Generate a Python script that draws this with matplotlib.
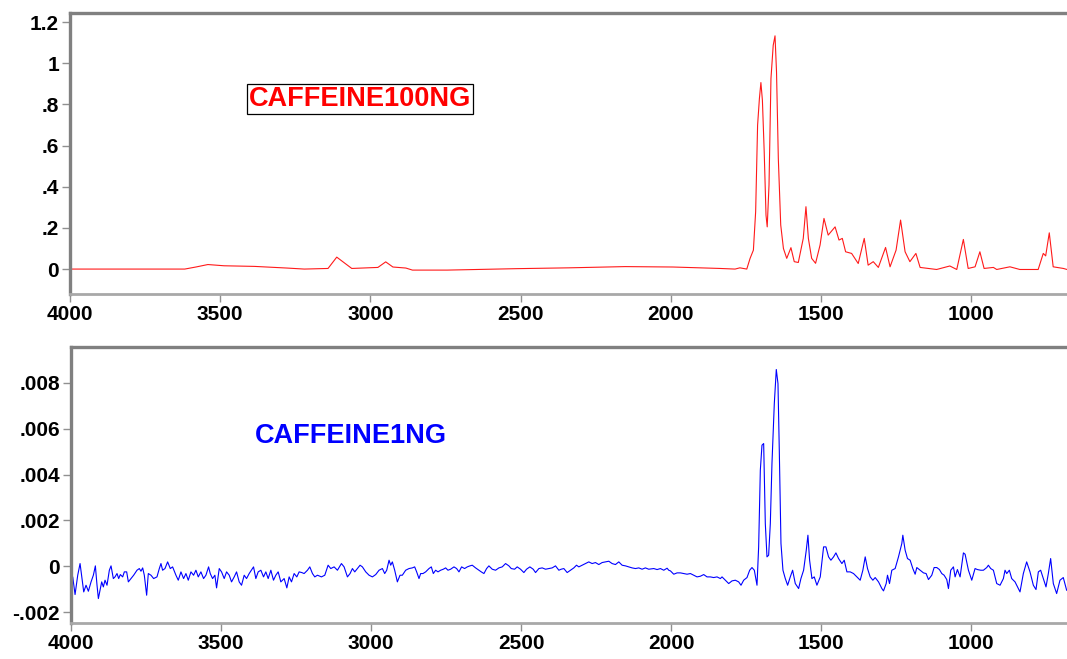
import numpy as np
import matplotlib
matplotlib.use("Agg")
import matplotlib.pyplot as plt
from matplotlib.ticker import FixedLocator, FuncFormatter

plt.rcParams['font.family'] = ['Liberation Sans', 'DejaVu Sans']

# caffeine 100 ng spectrum (wavenumber, absorbance)
wn_100 = [4000, 3618, 3581, 3541, 3487, 3386, 3278, 3220, 3141, 3112, 3062, 2975, 2949,
          2925, 2882, 2860, 2744, 2513, 2340, 2152, 1993, 1836, 1786, 1770, 1747, 1736,
          1725, 1717.5, 1711, 1705, 1700, 1695, 1689, 1683, 1679, 1673, 1666.5, 1659,
          1653, 1648, 1642, 1634, 1625, 1614, 1600, 1589, 1575.5, 1559, 1550, 1542, 1531,
          1518, 1503, 1490, 1476, 1453, 1440, 1429, 1418, 1398, 1376, 1356, 1343,
          1326, 1309, 1285, 1270, 1250, 1235, 1220, 1204, 1184, 1170, 1115, 1071, 1048,
          1026, 1010, 987, 971, 957, 926, 915, 871, 838, 777, 760, 752, 740, 727, 693, 681]
abs_100 = [0, 0, 0.010, 0.022, 0.016, 0.013, 0.005, 0.0, 0.003, 0.058, 0.003, 0.008, 0.035,
           0.010, 0.005, -0.005, -0.005, 0.002, 0.006, 0.012, 0.010, 0.003, 0.0, 0.006,
           0.0, 0.052, 0.092, 0.278, 0.699, 0.828, 0.906, 0.820, 0.570, 0.262, 0.205,
           0.408, 0.926, 1.087, 1.133, 0.958, 0.537, 0.214, 0.100, 0.052, 0.104, 0.036,
           0.032, 0.149, 0.303, 0.149, 0.052, 0.028, 0.117, 0.246, 0.165, 0.205, 0.141,
           0.149, 0.084, 0.076, 0.027, 0.149, 0.019, 0.036, 0.008, 0.105, 0.011, 0.092,
           0.238, 0.084, 0.036, 0.076, 0.008, -0.002, 0.015, -0.002, 0.144, 0.003, 0.011,
           0.084, 0.003, 0.008, -0.002, 0.011, -0.002, -0.002, 0.076, 0.064, 0.176, 0.011,
           0.003, -0.002]

# caffeine 1 ng spectrum, absorbance in units of 1e-3
wn_1 = [4000, 3994.5, 3986.7, 3977.8, 3970.0, 3963.4, 3957.8, 3950.1, 3942.3, 3933.4, 3925.7,
        3919.0, 3913.5, 3909.0, 3902.4, 3897.9, 3892.4, 3886.8, 3880.2, 3872.4, 3866.8,
        3859.1, 3853.5, 3846.9, 3841.3, 3835.8, 3828.0, 3822.5, 3814.7, 3809.1, 3800.3,
        3791.4, 3780.3, 3772.5, 3767.0, 3761.4, 3755.9, 3748.1, 3742.6, 3733.7, 3724.8,
        3713.7, 3705.9, 3700.4, 3694.9, 3687.1, 3678.2, 3669.3, 3661.6, 3650.5, 3642.7,
        3633.8, 3625.0, 3617.2, 3609.4, 3600.5, 3591.7, 3583.9, 3576.1, 3567.3, 3558.4,
        3550.6, 3541.7, 3536.2, 3528.4, 3520.7, 3515.1, 3506.2, 3498.5, 3489.6, 3481.8,
        3472.9, 3465.2, 3456.3, 3448.5, 3439.7, 3431.9, 3423.0, 3415.2, 3406.4, 3391.9,
        3384.2, 3376.4, 3367.5, 3358.6, 3350.9, 3343.1, 3334.2, 3325.4, 3317.6, 3309.8,
        3300.9, 3289.9, 3280.9, 3273.2, 3265.4, 3256.6, 3247.7, 3239.9, 3231.1, 3223.3,
        3212.2, 3204.4, 3195.5, 3187.8, 3178.9, 3165.6, 3154.5, 3143.4, 3134.5, 3123.4,
        3112.3, 3099.0, 3090.1, 3079.0, 3070.2, 3062.4, 3054.6, 3045.7, 3036.9, 3029.1,
        3018.0, 3006.9, 2995.8, 2984.7, 2973.6, 2962.5, 2954.8, 2948.1, 2940.3, 2934.8,
        2929.3, 2921.5, 2912.6, 2903.7,
        2896.0, 2884.9, 2873.8, 2862.7, 2854.9, 2848.3, 2840.5, 2834.9, 2827.2, 2818.3,
        2807.2, 2799.4, 2792.8, 2785.0, 2777.2, 2768.4, 2759.5, 2751.7, 2744.0, 2735.1,
        2724.0, 2715.1, 2707.3, 2698.5, 2688.5, 2679.6, 2670.7, 2663.0, 2651.9, 2640.8,
        2633.0, 2624.1, 2615.2, 2607.5, 2596.4, 2585.3, 2574.2, 2563.1, 2552.0, 2540.9,
        2533.1, 2522.0, 2513.2, 2502.1, 2491.0, 2482.1, 2471.0, 2459.9, 2452.1, 2441.0,
        2429.9, 2418.8, 2407.8, 2396.6, 2385.6, 2374.4, 2366.7, 2357.8, 2346.7, 2335.6,
        2324.5, 2315.6, 2307.9, 2296.8, 2285.7, 2274.6, 2263.5, 2252.4, 2241.3, 2230.2,
        2219.1, 2208.0, 2196.9, 2185.8, 2174.7, 2163.6, 2152.5, 2141.4, 2130.3, 2119.2,
        2108.1, 2097.0, 2086.0, 2074.9,
        2058.1, 2047.0, 2035.9, 2024.8, 2013.7, 2008.2, 2002.6, 1991.5, 1980.4, 1969.3,
        1958.2, 1947.2, 1936.0, 1925.0, 1913.9, 1902.8, 1891.7, 1880.6, 1869.5, 1858.4,
        1847.3, 1836.2, 1830.6, 1819.6, 1808.4, 1797.4, 1786.3, 1775.2, 1767.4, 1758.5,
        1747.4, 1738.5, 1730.8, 1723.0, 1714.1, 1708.6, 1703.0, 1697.5, 1691.9, 1686.4,
        1680.8, 1675.3, 1669.7, 1664.2, 1656.4, 1649.8, 1644.2, 1639.8, 1634.2, 1627.6,
        1619.8, 1612.0, 1603.2, 1595.4, 1586.5, 1575.4, 1567.7, 1558.8, 1549.9, 1544.4,
        1538.8, 1531.0, 1523.3, 1514.4, 1503.3, 1492.2, 1484.4, 1475.6, 1467.8, 1458.9,
        1451.1, 1442.3, 1431.2, 1423.4, 1414.5, 1403.5, 1392.4, 1381.3, 1370.2, 1361.3,
        1353.5, 1345.8, 1336.9, 1328.0, 1320.2, 1309.1, 1298.0, 1292.5, 1283.6, 1279.2,
        1272.5, 1264.8, 1253.7, 1242.6, 1231.5, 1228.1, 1220.4, 1212.6, 1203.7, 1194.8,
        1187.1, 1181.5, 1170.4, 1159.3, 1150.5, 1142.7, 1131.6, 1123.8, 1115.0, 1106.1,
        1098.3, 1090.5, 1081.7, 1076.1, 1068.4, 1059.5, 1053.9, 1046.2, 1037.3, 1026.2,
        1020.6, 1009.5, 998.4, 987.4, 979.6, 968.5, 959.6, 948.5, 943.0, 935.2,
        926.3, 915.2, 904.1, 893.0, 887.5, 881.9, 873.1, 865.3, 854.2, 837.6,
        826.5, 815.4, 804.3, 793.2, 784.3, 776.5, 768.8, 759.9, 751.0, 743.2,
        735.5, 726.6, 715.5, 704.4, 693.4, 682.2]
abs_1 = [-0.757, -0.466, -1.237, -0.393, 0.116, -0.539, -1.121, -0.830, -1.092, -0.684, -0.393,
         0.015, -0.830, -1.412, -0.975, -0.684, -0.903, -0.611, -0.830, -0.175, 0.015,
         -0.539, -0.466, -0.320, -0.539, -0.364, -0.466, -0.247, -0.247, -0.684, -0.539,
         -0.393, -0.175, -0.102, -0.218, -0.073, -0.393, -1.266, -0.320, -0.393, -0.539,
         -0.466, -0.102, 0.116, -0.175, -0.102, 0.189, -0.102, -0.029, -0.393, -0.611,
         -0.247, -0.539, -0.320, -0.611, -0.247, -0.393, -0.175, -0.466, -0.247, -0.539,
         -0.393, -0.029, -0.320, -0.539, -0.393, -0.946, -0.102, -0.247, -0.539, -0.247,
         -0.393, -0.684, -0.466, -0.247, -0.684, -0.830, -0.393, -0.539, -0.320, -0.029,
         -0.539, -0.247, -0.175, -0.466, -0.247, -0.539, -0.175, -0.611, -0.393, -0.247,
         -0.684, -0.539, -0.946, -0.466, -0.684, -0.320, -0.466, -0.247, -0.277, -0.320,
         -0.175, -0.029, -0.320, -0.466, -0.393, -0.466, -0.393, 0.044, -0.102, -0.029,
         -0.175, 0.116, -0.029, -0.466, -0.320, -0.102, -0.247, -0.102, 0.044, -0.029,
         -0.247, -0.393, -0.466, -0.364, -0.175, -0.102, -0.320, -0.175, 0.262, 0.044,
         0.189, -0.175, -0.684, -0.393,
         -0.393, -0.175, -0.102, -0.073, -0.029, -0.247, -0.539, -0.320, -0.320, -0.247,
         -0.102, -0.029, -0.320, -0.175, -0.247, -0.175, -0.131, -0.073, -0.175, -0.131,
         -0.029, -0.102, -0.247, -0.029, -0.102, -0.029, 0.015, 0.044, -0.073, -0.175,
         -0.247, -0.320, -0.102, 0.015, -0.131, -0.175, -0.073, -0.029, 0.116, 0.015,
         -0.102, -0.131, -0.029, -0.131, -0.277, -0.131, -0.029, -0.131, -0.277, -0.102,
         -0.073, -0.131, -0.102, -0.073, 0.015, -0.175, -0.131, -0.102, -0.277, -0.175,
         -0.073, 0.044, -0.029, 0.044, 0.116, 0.189, 0.116, 0.160, 0.073, 0.160,
         0.189, 0.218, 0.116, 0.073, 0.189, 0.044, 0.015, -0.029, -0.073, -0.102,
         -0.073, -0.131, -0.073, -0.131,
         -0.102, -0.146, -0.102, -0.175, -0.087, -0.175, -0.204, -0.349, -0.291, -0.291,
         -0.320, -0.349, -0.320, -0.393, -0.466, -0.437, -0.364, -0.466, -0.466, -0.495,
         -0.466, -0.539, -0.466, -0.611, -0.757, -0.641, -0.611, -0.684, -0.830, -0.611,
         -0.495, -0.175, -0.058, -0.175, -0.830, 0.844, 4.192, 5.284, 5.357, 1.863,
         0.408, 0.480, 1.863, 4.484, 7.104, 8.589, 7.977, 5.066, 0.990, -0.175,
         -0.539, -0.830, -0.466, -0.175, -0.757, -0.975, -0.539, -0.175, 0.699, 1.354,
         0.262, -0.539, -0.466, -0.830, -0.466, 0.844, 0.844, 0.408, 0.262, 0.408,
         0.582, 0.335, 0.116, 0.262, -0.247, -0.247, -0.320, -0.466, -0.611, -0.175,
         0.408, -0.102, -0.466, -0.611, -0.495, -0.684, -0.975, -1.077, -0.757, -0.393,
         -0.757, -0.175, -0.102, 0.408, 0.990, 1.354, 0.699, 0.335, 0.262, -0.102,
         -0.349, -0.058, -0.175, -0.291, -0.320, -0.582, -0.393, -0.058, -0.058, -0.146,
         -0.320, -0.393, -0.582, -0.975, -0.175, -0.029, -0.466, -0.146, -0.466, 0.582,
         0.524, -0.175, -0.611, -0.102, -0.146, -0.175, -0.175, -0.058, 0.044, -0.102,
         -0.175, -0.757, -0.830, -0.539, -0.175, -0.320, -0.175, -0.539, -0.684, -1.121,
         -0.320, 0.189, -0.247, -0.830, -1.019, -0.247, -0.175, -0.539, -0.903, -0.320,
         0.335, -0.757, -1.194, -0.611, -0.495, -1.048]

x_ticks = [4000, 3500, 3000, 2500, 2000, 1500, 1000]
top_ticks = [0, 0.2, 0.4, 0.6, 0.8, 1.0, 1.2]
bottom_ticks = [-0.002, 0, 0.002, 0.004, 0.006, 0.008]


def short_fmt(v, pos):
    s = f"{round(v, 6):g}"
    if s.startswith("0."):
        s = s[1:]
    elif s.startswith("-0."):
        s = "-" + s[2:]
    return s


def style_axes(ax, yticks):
    ax.set_xlim(4000, 681)
    ax.xaxis.set_major_locator(FixedLocator(x_ticks))
    ax.yaxis.set_major_locator(FixedLocator(yticks))
    ax.yaxis.set_major_formatter(FuncFormatter(short_fmt))
    ax.spines['right'].set_visible(False)
    for side in ['top', 'left']:
        ax.spines[side].set_color('#808080')
        ax.spines[side].set_linewidth(2.4)
    ax.spines['bottom'].set_color('#a8a8a8')
    ax.spines['bottom'].set_linewidth(2.0)
    ax.tick_params(direction='out', length=6, width=1, color='#909090',
                   labelsize=15, pad=2)
    for lab in ax.get_xticklabels() + ax.get_yticklabels():
        lab.set_fontweight('bold')


fig = plt.figure(figsize=(10.67, 6.59), dpi=100)
ax1 = fig.add_axes([0.0656, 0.5539, 0.9344, 0.4264])
ax2 = fig.add_axes([0.0666, 0.0546, 0.9334, 0.4188])

ax1.plot(wn_100, abs_100, color='#ff1a1a', lw=0.8)
ax1.set_ylim(-0.121, 1.244)
style_axes(ax1, top_ticks)
ax1.text(0.291, 0.694, 'CAFFEINE100NG', transform=ax1.transAxes, color='#ff0000',
         fontsize=19.5, fontweight='bold', ha='center', va='center',
         bbox=dict(facecolor='white', edgecolor='black', linewidth=0.9, pad=1.5))

ax2.plot(wn_1, np.array(abs_1) * 1e-3, color='#0000ff', lw=0.8)
ax2.set_ylim(-0.00248, 0.00957)
style_axes(ax2, bottom_ticks)
ax2.text(0.281, 0.678, 'CAFFEINE1NG', transform=ax2.transAxes, color='#0000ff',
         fontsize=19.5, fontweight='bold', ha='center', va='center')

fig.savefig('out.png', dpi=100)
